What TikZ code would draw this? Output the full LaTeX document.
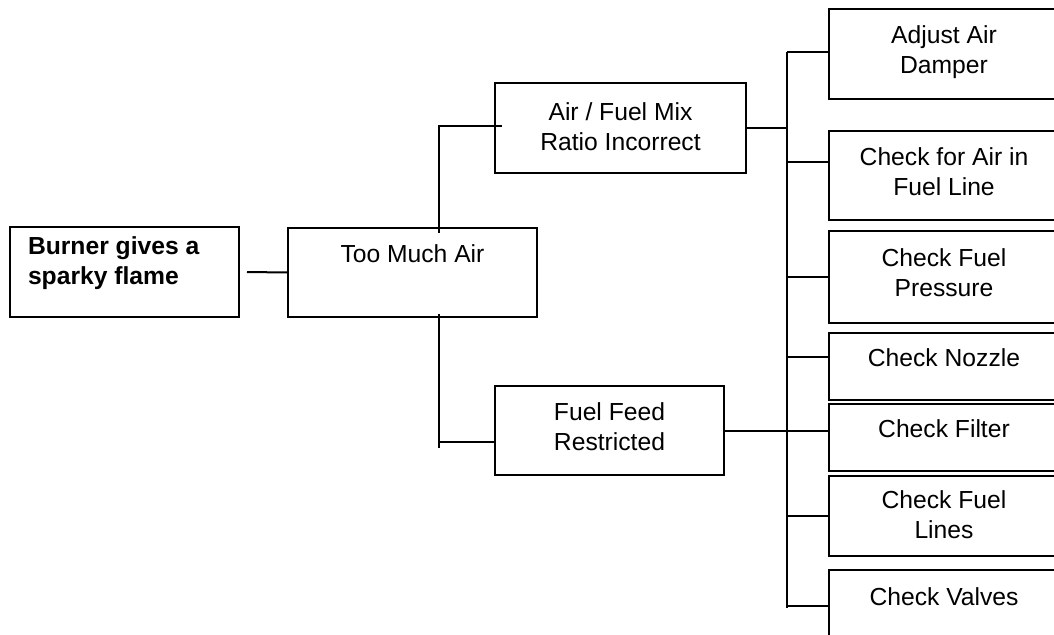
\documentclass[tikz,border=0pt]{standalone}
\usepackage{fontspec}
\setmainfont{Liberation Sans}
\usetikzlibrary{positioning}

\begin{document}
\begin{tikzpicture}[x=0.75pt, y=-0.75pt, line width=1.5pt,
  box/.style={draw, inner sep=0pt, anchor=north west},
  txt/.style={inner sep=0pt, align=center, font=\fontsize{18.5}{22.5}\selectfont}]
\useasboundingbox (0,0) rectangle (1054,635);
\clip (0,0) rectangle (1054,635);
% boxes
\node[box, minimum width=171.75pt, minimum height=67.5pt] (root) at (9,226) {};
\node[box, minimum width=186.75pt, minimum height=66.75pt] (air) at (287,227) {};
\node[box, minimum width=188.25pt, minimum height=67.5pt] (mix) at (494,82) {};
\node[box, minimum width=171.75pt, minimum height=66.75pt] (feed) at (494,385) {};
\node[box, minimum width=172.5pt, minimum height=67.5pt] (damper) at (828,8) {};
\node[box, minimum width=172.5pt, minimum height=66.75pt] (forair) at (828,130) {};
\node[box, minimum width=172.5pt, minimum height=69pt] (press) at (828,230) {};
\node[box, minimum width=172.5pt, minimum height=50.25pt] (nozzle) at (828,332) {};
\node[box, minimum width=172.5pt, minimum height=50.25pt] (filter) at (828,403) {};
\node[box, minimum width=172.5pt, minimum height=60pt] (lines) at (828,475) {};
\node[box, minimum width=172.5pt, minimum height=54pt] (valves) at (828,569) {};
% texts
\node[txt, align=left, font=\fontsize{18.5}{22.5}\selectfont\bfseries, below right=7.5pt and 13.5pt of root.north west] (roott) {Burner gives a\\sparky flame};
\node[txt, below=12.75pt of air.north] (airt) {Too Much Air};
\node[txt, below=15pt of mix.north] (mixt) {Air / Fuel Mix\\Ratio Incorrect};
\node[txt, below=12.75pt of feed.north] (feedt) {Fuel Feed\\Restricted};
\node[txt, below=12.75pt of damper.north] (dampert) {Adjust Air\\Damper};
\node[txt, below=12.75pt of forair.north] (forairt) {Check for Air in\\Fuel Line};
\node[txt, below=13.5pt of press.north] (presst) {Check Fuel\\Pressure};
\node[txt, below=12pt of nozzle.north] (nozzlet) {Check Nozzle};
\node[txt, below=12pt of filter.north] (filtert) {Check Filter};
\node[txt, below=11.25pt of lines.north] (linest) {Check Fuel\\Lines};
\node[txt, below=13.5pt of valves.north] (valvest) {Check Valves};
% connectors
\coordinate (lbus) at (439,126);
\coordinate (fjoin) at (439,442);
\coordinate (rtop) at (787,52);
\coordinate (rbot) at (787,608);
\draw ([xshift=5.25pt]root.east) -- (air.west);
\draw ([yshift=-4.5pt]air.north -| lbus) -- (lbus) -- ([xshift=6pt]lbus -| mix.west);
\draw ([yshift=3pt]air.south -| fjoin) -- ([yshift=-4.5pt]fjoin);
\draw (fjoin) -- (fjoin -| feed.west);
\draw (mix.east) -- (mix.east -| rtop);
\draw (feed.east) -- (feed.east -| filter.west);
\draw (rtop) -- (rbot);
\draw (rtop) -- (rtop -| damper.west);
\draw (rtop |- 0,162) -- (forair.west |- 0,162);
\draw (press.west -| rtop) -- (press.west);
\draw (rtop |- 0,357) -- (nozzle.west |- 0,357);
\draw (lines.west -| rtop) -- (lines.west);
\draw (valves.west -| rtop) -- (valves.west);
\end{tikzpicture}
\end{document}
